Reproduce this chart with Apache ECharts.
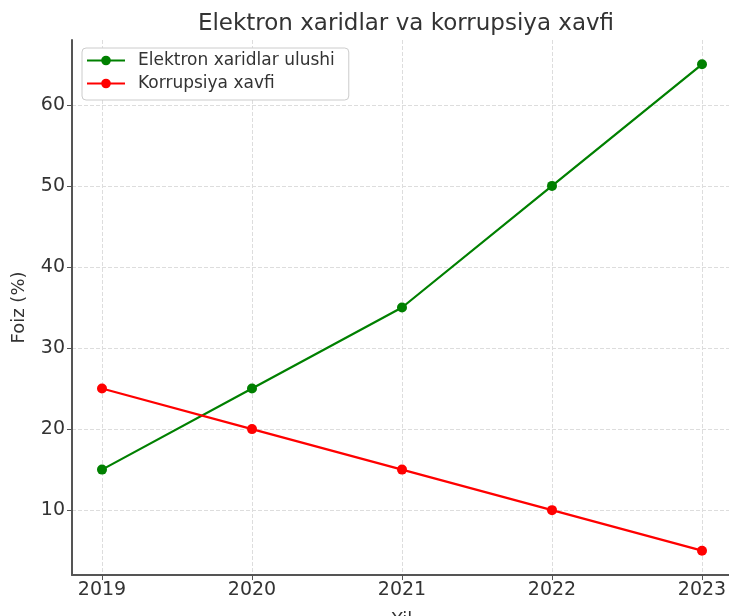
<!DOCTYPE html>
<html>
<head>
<meta charset="utf-8">
<script src="https://cdn.jsdelivr.net/npm/echarts@6/dist/echarts.min.js"></script>
<style>html,body{margin:0;padding:0;background:#fff}#c{width:729px;height:616px}</style>
</head>
<body>
<div id="c"></div>
<script>
const years = [2019, 2020, 2021, 2022, 2023];
const elektron = [15, 25, 35, 50, 65];
const korrupsiya = [25, 20, 15, 10, 5];
const yTicks = [10, 20, 30, 40, 50, 60];

const chart = echarts.init(document.getElementById('c'));
const font = 'DejaVu Sans';
chart.setOption({
  animation: false,
  backgroundColor: '#fff',
  title: {
    text: 'Elektron xaridlar va korrupsiya xavfi',
    left: 401, top: 8, textAlign: 'center',
    textStyle: { fontFamily: font, fontSize: 23, fontWeight: 'normal', color: '#333' }
  },
  legend: {
    left: 82, top: 48, orient: 'vertical',
    itemWidth: 38, itemHeight: 12, itemGap: 6,
    padding: [4, 14, 8, 4],
    borderColor: '#ccc', borderWidth: 1, borderRadius: 4,
    backgroundColor: '#fff',
    textStyle: { fontFamily: font, fontSize: 17, color: '#333', padding: [0, 0, 0, 8] }
  },
  grid: { left: 72, top: 40, width: 660, height: 535, containLabel: false, outerBoundsMode: 'none' },
  xAxis: {
    type: 'value', min: 2018.8, max: 2023.2,
    name: 'Yil', nameLocation: 'middle', nameGap: 36,
    nameTextStyle: { fontFamily: font, fontSize: 18, color: '#333' },
    axisLine: { lineStyle: { color: '#555', width: 2 } },
    axisTick: { show: true, customValues: years, length: 5, lineStyle: { color: '#555' } },
    axisLabel: { customValues: years, fontFamily: font, fontSize: 19, color: '#333', margin: 6, formatter: v => String(v) },
    splitLine: { show: true, lineStyle: { type: 'dashed', color: '#ddd' } }
  },
  yAxis: {
    type: 'value', min: 2, max: 68,
    name: 'Foiz (%)', nameLocation: 'middle', nameGap: 44,
    nameTextStyle: { fontFamily: font, fontSize: 18, color: '#333' },
    axisLine: { show: true, lineStyle: { color: '#555', width: 2 } },
    axisTick: { show: true, customValues: yTicks, length: 5, lineStyle: { color: '#555' } },
    axisLabel: { customValues: yTicks, fontFamily: font, fontSize: 19, color: '#333', margin: 7 },
    splitLine: { show: true, lineStyle: { type: 'dashed', color: '#ddd' } }
  },
  series: [
    {
      name: 'Elektron xaridlar ulushi', type: 'line',
      data: years.map((y, i) => [y, elektron[i]]),
      symbol: 'circle', symbolSize: 10,
      lineStyle: { color: '#008000', width: 2.2 },
      itemStyle: { color: '#008000' }
    },
    {
      name: 'Korrupsiya xavfi', type: 'line',
      data: years.map((y, i) => [y, korrupsiya[i]]),
      symbol: 'circle', symbolSize: 10,
      lineStyle: { color: '#ff0000', width: 2.2 },
      itemStyle: { color: '#ff0000' }
    }
  ]
});
</script>
</body>
</html>
